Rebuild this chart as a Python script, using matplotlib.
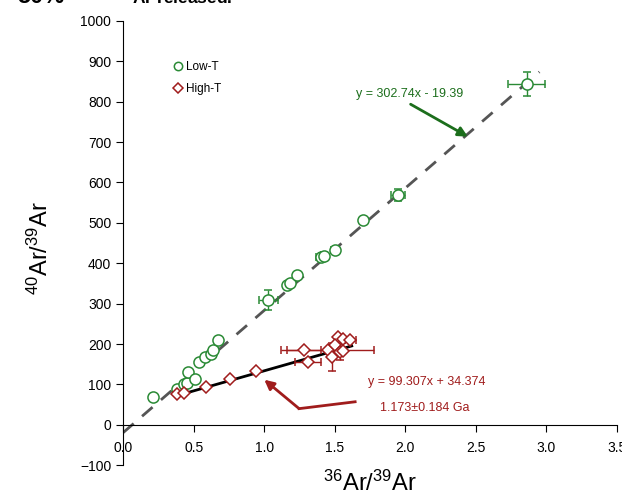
import matplotlib
matplotlib.use("Agg")
import matplotlib.pyplot as plt
from matplotlib.lines import Line2D

plt.rcParams['font.family'] = ['Liberation Sans', 'DejaVu Sans']

# Low-T data
low_x = [0.21, 0.38, 0.43, 0.45, 0.46, 0.51, 0.54, 0.58, 0.62, 0.64, 0.67,
         1.03, 1.16, 1.18, 1.23, 1.40, 1.42, 1.50, 1.70, 1.95, 2.86]
low_y = [69, 89, 101, 104, 131, 114, 156, 168, 175, 186, 211,
         308, 345, 352, 372, 416, 419, 432, 508, 570, 843]
low_xerr = [0.02, 0, 0, 0, 0, 0, 0, 0, 0, 0, 0,
            0.07, 0.02, 0.02, 0, 0.03, 0.03, 0.03, 0, 0.05, 0.13]
low_yerr = [0, 0, 0, 0, 0, 0, 0, 0, 0, 0, 0,
            25, 0, 0, 0, 0, 8, 0, 0, 15, 30]

# High-T data
high_x = [0.38, 0.43, 0.59, 0.76, 0.94, 1.28, 1.31, 1.45, 1.48, 1.52, 1.50, 1.54, 1.56, 1.61, 1.56]
high_y = [77, 79, 94, 114, 134, 184, 155, 186, 167, 218, 198, 180, 212, 210, 182]
high_xerr = [0, 0, 0, 0, 0, 0.12, 0.09, 0.33, 0, 0, 0, 0, 0, 0.04, 0]
high_yerr = [0, 0, 0, 0, 0, 0, 0, 0, 35, 0, 0, 20, 0, 0, 0]

# regressions
low_slope, low_int = 302.74, -19.39
high_slope, high_int = 99.307, 34.374
low_line_x = [0.0, 2.95]
high_line_x = [0.38, 1.62]

x_ticks = [0, 0.5, 1.0, 1.5, 2.0, 2.5, 3.0, 3.5]
x_ticklabels = ['0.0', '0.5', '1.0', '1.5', '2.0', '2.5', '3.0', '3.5']

green = '#2a8a35'
green_dark = '#1c6e1c'
red = '#a01c1c'

fig = plt.figure(figsize=(6.22, 4.97), dpi=100)
ax = fig.add_axes([0.198, 0.064, 0.794, 0.894])

ax.plot(low_line_x, [low_slope * x + low_int for x in low_line_x],
        color='#555555', lw=2, dashes=(5, 4), zorder=1)
ax.plot(high_line_x, [high_slope * x + high_int for x in high_line_x],
        color='black', lw=2, zorder=1)

ax.errorbar(low_x, low_y, xerr=low_xerr, yerr=low_yerr, fmt='o', mfc='white',
            mec=green, ecolor=green, color=green, ms=8, mew=1.1, capsize=3,
            elinewidth=1, zorder=3)
ax.errorbar(high_x, high_y, xerr=high_xerr, yerr=high_yerr, fmt='D', mfc='white',
            mec=red, ecolor=red, color=red, ms=6.5, mew=1.1, capsize=3,
            elinewidth=1, zorder=3)

ax.set_xlim(0, 3.5)
ax.set_ylim(-100, 1000)
ax.set_xticks(x_ticks)
ax.set_xticklabels(x_ticklabels)
ax.set_yticks(range(-100, 1001, 100))
ax.spines['top'].set_visible(False)
ax.spines['right'].set_visible(False)
ax.spines['bottom'].set_position(('data', 0))
ax.tick_params(axis='both', labelsize=10, direction='out', length=5)
ax.tick_params(axis='x', pad=7)

fig.text(370 / 622, 1 / 497, r'$\mathregular{^{36}}$Ar/$\mathregular{^{39}}$Ar',
         fontsize=17, ha='center', va='bottom')
fig.text(40 / 622, 0.5, r'$\mathregular{^{40}}$Ar/$\mathregular{^{39}}$Ar',
         fontsize=17, ha='center', va='center', rotation=90)

handles = [Line2D([], [], ls='none', marker='o', mfc='white', mec=green, ms=6, mew=1.1),
           Line2D([], [], ls='none', marker='D', mfc='white', mec=red, ms=5, mew=1.1)]
ax.legend(handles, ['Low-T', 'High-T'], loc='upper left',
          bbox_to_anchor=(0.075, 0.934), frameon=False, fontsize=8.5,
          handletextpad=0.1, labelspacing=0.85, handlelength=1.2)

# annotations
ax.text(2.03, 820, 'y = 302.74x - 19.39', color=green_dark, fontsize=9,
        ha='center', va='center')
ax.annotate('', xy=(2.46, 710), xytext=(2.02, 797),
            arrowprops=dict(arrowstyle='-|>', color=green_dark, lw=2,
                            mutation_scale=14))
ax.text(2.15, 105, 'y = 99.307x + 34.374', color=red, fontsize=9,
        ha='center', va='center')
ax.text(2.14, 42, '1.173\u00b10.184 Ga', color=red, fontsize=9,
        ha='center', va='center')
ax.plot([1.644, 1.247], [57, 40], color=red, lw=2)
ax.annotate('', xy=(0.985, 116), xytext=(1.247, 40),
            arrowprops=dict(arrowstyle='-|>', color=red, lw=2,
                            mutation_scale=14, shrinkA=0))

# partially visible heading at the very top (cut off in the original)
fig.text(17 / 622, 1.0 - 3 / 497, '50%', fontsize=17, fontweight='bold',
         va='baseline', ha='left')
fig.text(118 / 622, 1.0 - 3 / 497, r'$\mathregular{^{39}}$Ar released.',
         fontsize=12.5, fontweight='bold', va='baseline', ha='left')

fig.savefig('out.png', dpi=100)
